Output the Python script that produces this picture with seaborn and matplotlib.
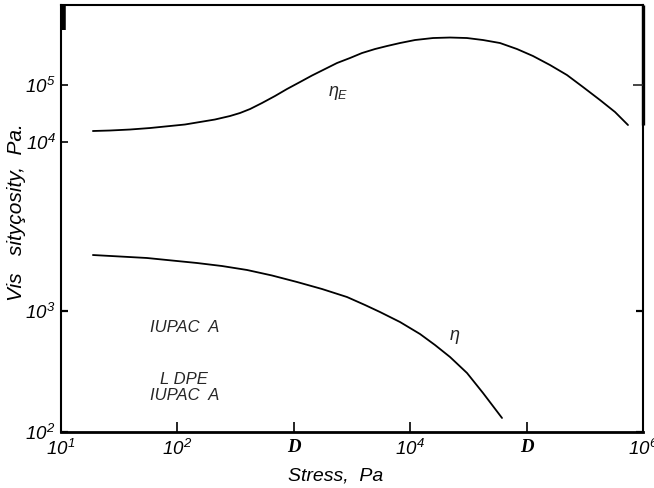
import matplotlib
matplotlib.use("Agg")
import matplotlib.pyplot as plt
from matplotlib.ticker import NullLocator
import seaborn as sns
import pandas as pd

# Elongational viscosity eta_E (upper curve) vs stress
stress_e = [18.8, 26.4, 39.2, 58.2, 86.4, 116, 156, 210, 283, 345, 421, 533,
            689, 874, 1131, 1433, 1854, 2350, 3039, 3853, 4984, 6320, 8173,
            11000, 15700, 21980, 30760, 42220, 59090, 82700, 113500, 158900,
            222300, 305100, 427100, 574900, 743200]
eta_e = [15600, 15920, 16570, 17600, 19090, 20280, 22430, 24810, 28580,
         32280, 37920, 48330, 64120, 85100, 112900, 146800, 190900, 243200,
         297700, 364100, 428000, 483300, 545600, 615900, 667600, 681300,
         667600, 615900, 545600, 428000, 322800, 224300, 149700, 92250,
         54560, 33600, 19870]

# Shear viscosity eta (lower curve) vs stress
stress_s = [18.8, 32.1, 54.8, 89.9, 147.4, 241.6, 396.2, 649.5, 1065, 1747,
            2864, 4090, 5502, 8173, 12140, 16330, 21980, 30760, 42220, 61480]
eta_s = [2902, 2821, 2742, 2614, 2493, 2354, 2183, 1966, 1737, 1520, 1305,
         1121, 981, 811, 645.5, 523.6, 416.8, 307.4, 210.1, 130.6]

x_ticks = [1e1, 1e2, 1e3, 1e4, 1e5, 1e6]
x_tick_labels = ["$10^1$", "$10^2$", "D", "$10^4$", "D", "$10^6$"]
low_y_ticks = [1e2, 1e3]
low_y_labels = ["$10^2$", "$10^3$"]
up_y_ticks = [1e4, 1e5]
up_y_labels = ["$10^4$", "$10^5$"]

sns.set_theme(style="white")
plt.rcParams["font.family"] = ["Liberation Sans", "DejaVu Sans"]
plt.rcParams["font.style"] = "italic"
plt.rcParams["mathtext.fontset"] = "custom"
for k in ("rm", "it", "sf", "bf"):
    plt.rcParams["mathtext." + k] = "Liberation Sans:italic"

df_e = pd.DataFrame({"stress": stress_e, "eta": eta_e})
df_s = pd.DataFrame({"stress": stress_s, "eta": eta_s})

W, H = 654, 488
L, R, T, B = 61, 643, 5, 432
fig = plt.figure(figsize=(W / 100, H / 100), dpi=100)
ax = fig.add_axes([L / W, (H - B) / H, (R - L) / W, (B - T) / H])
ax.set_facecolor("white")

# lower scale: shear viscosity
sns.lineplot(data=df_s, x="stress", y="eta", ax=ax, color="black", lw=1.3,
             sort=False)
ax.set_xscale("log")
ax.set_yscale("log")
ax.set_xlim(1e1, 1e6)
ax.set_ylim(1e2, 10 ** 5.529)

# upper scale: elongational viscosity
ax2 = ax.twinx()
sns.lineplot(data=df_e, x="stress", y="eta", ax=ax2, color="black", lw=1.3,
             sort=False)
ax2.set_yscale("log")
ax2.set_ylim(10 ** -1.088, 10 ** 6.404)
ax2.yaxis.set_ticks_position("left")
ax2.yaxis.set_label_position("left")
ax2.set_ylabel("")
for s in ax2.spines.values():
    s.set_visible(False)

ax.set_xticks(x_ticks)
ax.set_xticklabels(x_tick_labels)
ax.minorticks_off()
ax2.minorticks_off()
ax.set_yticks(low_y_ticks)
ax.set_yticklabels(low_y_labels)
ax2.set_yticks(up_y_ticks)
ax2.set_yticklabels(up_y_labels)

for lbl in ax.get_xticklabels():
    if lbl.get_text() == "D":
        lbl.set_fontfamily("Liberation Serif")
        lbl.set_fontweight("bold")
        lbl.set_fontsize(14)

ax.tick_params(axis="x", direction="in", length=7, width=1.2, pad=5,
               labelsize=13.5, colors="black", bottom=True)
ax.tick_params(axis="y", direction="in", length=5, width=1.6, pad=4,
               labelsize=13.5, colors="black", left=True, right=True)
ax2.tick_params(axis="y", direction="in", length=5, width=1.2, pad=4,
                labelsize=13.5, colors="black", left=True, right=False)

sec = ax2.secondary_yaxis("right")
sec.set_yticks([1e5])
sec.set_yticklabels([])
sec.yaxis.set_minor_locator(NullLocator())
sec.tick_params(direction="in", length=7, width=1.2)
sec.spines["right"].set_visible(False)

for name, w in (("left", 1.5), ("bottom", 2.0), ("top", 1.5), ("right", 1.5)):
    ax.spines[name].set_color("black")
    ax.spines[name].set_linewidth(w)

# heavy marks along the top of the left and right frame
ax.plot([0.004, 0.004], [0.941, 1.0], transform=ax.transAxes, color="black",
        lw=4, solid_capstyle="butt", clip_on=False)
ax.plot([1.0, 1.0], [0.719, 1.0], transform=ax.transAxes, color="black",
        lw=2.4, solid_capstyle="butt", clip_on=False)
# breaks in the frame
ax.plot([0, 0], [0.356, 0.379], transform=ax.transAxes, color="white",
        lw=3, solid_capstyle="butt", clip_on=False)
ax.plot([1, 1], [0.234, 0.246], transform=ax.transAxes, color="white",
        lw=3, solid_capstyle="butt", clip_on=False)

ax.set_xlabel("Stress,  Pa", fontsize=14, color="black")
ax.xaxis.set_label_coords(0.4725, -0.082)
ax.set_ylabel("Vis   sityçosity,  Pa.", fontsize=15, color="black")
ax.yaxis.set_label_coords(-0.060, 0.514)

ax2.text(1950, 7.2e4, r"$\eta_E$", fontsize=13, ha="left", va="center")
ax.text(2.39e4, 610, r"$\eta$", fontsize=13, ha="center", va="center")
ax.text(0.153, 0.2342, "IUPAC  A", transform=ax.transAxes, fontsize=12,
        ha="left", va="baseline")
ax.text(0.170, 0.112, "L DPE", transform=ax.transAxes, fontsize=12,
        ha="left", va="baseline")
ax.text(0.153, 0.0749, "IUPAC  A", transform=ax.transAxes, fontsize=12,
        ha="left", va="baseline")

ax.grid(False)
ax2.grid(False)
fig.savefig("out.png", dpi=100)
